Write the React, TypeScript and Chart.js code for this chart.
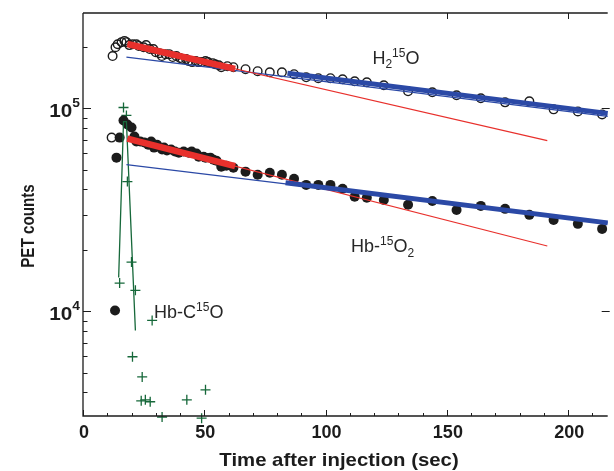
import { useEffect, useRef } from 'react';
import { Chart, registerables } from 'chart.js';

Chart.register(...registerables);

// ---------------- data ----------------
const h2oTime = [11.8, 12.2, 13.4, 14.3, 15.9, 17.1, 17.9, 19.1, 20.5, 22, 23, 25, 26, 27.5, 29, 30, 31.5, 32.5, 34, 35.5, 37, 38.5, 40, 41, 42.5, 43.5, 45, 46.5, 47.5, 49, 50.5, 51.5, 53.5, 54.5, 56, 57, 59.5, 62, 67, 72, 77, 82, 87, 92, 97, 102, 107, 112, 117, 124, 134, 144, 154, 164, 174, 184, 194, 204, 214];
const h2oCounts = [71800, 181000, 200000, 207000, 212000, 215000, 212000, 205000, 207000, 207000, 203000, 200000, 205000, 196000, 196000, 189000, 187000, 181000, 185000, 185000, 179000, 181000, 177000, 175000, 175000, 171000, 169000, 171000, 169000, 169000, 171000, 169000, 167000, 165000, 163000, 159600, 161400, 159600, 156000, 152500, 150700, 150700, 147400, 142300, 140800, 140800, 139200, 136000, 134500, 130000, 121400, 120000, 116000, 112100, 107100, 108300, 98900, 96600, 93400];

const hbO2Time = [13.2, 13.8, 15.1, 16.7, 18.3, 20, 21.2, 22, 23.6, 25.3, 26.9, 28.1, 29.3, 30.5, 32.6, 33.4, 34.6, 36.3, 37.9, 39.5, 41.5, 43.6, 44.8, 46.8, 47.7, 49.7, 50.5, 52.5, 53.8, 55, 57, 59.1, 62, 67, 72, 77, 82, 87, 92, 97, 102, 107, 112, 117, 124, 134, 144, 154, 164, 174, 184, 194, 204, 214];
const hbO2Counts = [10100, 57200, 71800, 87200, 83300, 80500, 72700, 68700, 68700, 67900, 66300, 68700, 64100, 66300, 62700, 64100, 62000, 62700, 61300, 60500, 61300, 60500, 61300, 59900, 57800, 57800, 57200, 57200, 55900, 55300, 51600, 52200, 51050, 48800, 47100, 48200, 47100, 45000, 42000, 42000, 42000, 40200, 36700, 36300, 35400, 33500, 35000, 31600, 33100, 32000, 29900, 28200, 27000, 25500];

const hbCOTime = [15.1, 16.7, 17.9, 18.3, 20.0, 20.4, 21.6, 24.0, 24.4, 25.7, 27.7, 28.5, 32.6, 42.8, 48.9, 50.5];
const hbCOCounts = [13800, 101000, 92300, 43600, 17500, 5980, 12700, 3630, 4760, 3670, 3590, 9030, 3020, 3670, 2980, 4110];
const hbCOCurveTime = [14.7, 16.7, 17.9, 21.6];
const hbCOCurveCounts = [14700, 86000, 86000, 8050];

const h2oEarlyFitTime = [18.3, 191.4];
const h2oEarlyFitCounts = [207600, 69400];
const h2oEarlyFitBoldTime = [18.3, 62.7];
const h2oEarlyFitBoldCounts = [207600, 156600];
const hbO2EarlyFitTime = [18.3, 191.4];
const hbO2EarlyFitCounts = [71000, 21000];
const hbO2EarlyFitBoldTime = [18.3, 62.7];
const hbO2EarlyFitBoldCounts = [71000, 51900];

const h2oLateFitTime = [17.9, 216.3];
const h2oLateFitCounts = [178800, 91300];
const h2oLateFitBoldTime = [84.3, 216.3];
const h2oLateFitBoldCounts = [149000, 94500];
const hbO2LateFitTime = [17.9, 216.3];
const hbO2LateFitCounts = [52800, 27300];
const hbO2LateFitBoldTime = [83.5, 216.3];
const hbO2LateFitBoldCounts = [43000, 27300];

const xTickValues = [0, 10, 20, 30, 40, 50, 60, 70, 80, 90, 100, 110, 120, 130, 140, 150, 160, 170, 180, 190, 200, 210];
const xTickLabels = ['0', '50', '100', '150', '200'];
const yTickValues = [4000, 5000, 6000, 7000, 8000, 9000, 10000, 20000, 30000, 40000, 50000, 60000, 70000, 80000, 90000, 100000, 200000];
const yTickExponents = ['4', '5'];

const xTitle = 'Time after injection (sec)';
const yTitle = 'PET counts';

// labels anchored in data coordinates (time, counts)
const labelH2O = { t: 119.3, v: 165000 };
const labelHbO2 = { t: 110.5, v: 19600 };
const labelHbCO = { t: 29.3, v: 9330 };

// ---------------- styling ----------------
const RED = '#e8302c';
const BLUE = '#2b49a6';
const GREEN = '#16683a';
const INK = '#1c1c1c';
const FONT = '"Liberation Sans", Arial, Helvetica, sans-serif';

const pts = (xs: number[], ys: number[]) => xs.map((x, i) => ({ x, y: ys[i] }));

type Part = { text: string; size: number; dy: number; bold?: boolean };

function measureParts(ctx: CanvasRenderingContext2D, parts: Part[]) {
  let w = 0;
  for (const p of parts) {
    ctx.font = `${p.bold ? 'bold ' : ''}${p.size}px ${FONT}`;
    w += ctx.measureText(p.text).width;
  }
  return w;
}

function drawParts(ctx: CanvasRenderingContext2D, parts: Part[], x: number, y: number) {
  let cx = x;
  for (const p of parts) {
    ctx.font = `${p.bold ? 'bold ' : ''}${p.size}px ${FONT}`;
    ctx.fillText(p.text, cx, y + p.dy);
    cx += ctx.measureText(p.text).width;
  }
}

const framePlugin = {
  id: 'framePlugin',
  afterDatasetsDraw(chart: any) {
    const { ctx, chartArea: a, scales } = chart;
    const x = scales.x;
    const y = scales.y;
    ctx.save();
    ctx.strokeStyle = INK;
    ctx.fillStyle = INK;
    ctx.lineWidth = 1.3;
    ctx.beginPath();
    ctx.moveTo(a.left, a.top);
    ctx.lineTo(a.right, a.top);
    ctx.moveTo(a.left, a.top);
    ctx.lineTo(a.left, a.bottom);
    ctx.lineTo(a.right, a.bottom);
    ctx.stroke();

    // x ticks (inward)
    ctx.lineWidth = 1;
    ctx.beginPath();
    for (const v of xTickValues) {
      const px = Math.round(x.getPixelForValue(v)) + 0.5;
      const major = v % 50 === 0;
      const len = major ? 6 : 3;
      ctx.moveTo(px, a.bottom);
      ctx.lineTo(px, a.bottom - len);
      if (major && v > 0) {
        ctx.moveTo(px, a.top);
        ctx.lineTo(px, a.top + 6);
      }
    }
    // y ticks (inward), left; right axis just beyond the visible edge
    for (const v of yTickValues) {
      const py = Math.round(y.getPixelForValue(v)) + 0.5;
      const major = Math.abs(Math.log10(v) - Math.round(Math.log10(v))) < 1e-9;
      const len = major ? 8 : 4.5;
      ctx.moveTo(a.left, py);
      ctx.lineTo(a.left + len, py);
      if (major) {
        ctx.moveTo(a.right + 2, py);
        ctx.lineTo(a.right + 2 - len, py);
      }
    }
    ctx.stroke();

    // x tick labels
    ctx.textAlign = 'center';
    ctx.textBaseline = 'alphabetic';
    ctx.font = `bold 18px ${FONT}`;
    for (const lab of xTickLabels) {
      const px = x.getPixelForValue(Number(lab));
      ctx.fillText(lab, px + 1, a.bottom + 22);
    }

    // y tick labels (10^n), slightly widened
    ctx.textAlign = 'left';
    const sx = 1.15;
    for (const e of yTickExponents) {
      const py = y.getPixelForValue(Math.pow(10, Number(e)));
      const parts: Part[] = [
        { text: '10', size: 18, dy: 0, bold: true },
        { text: e, size: 12, dy: -10, bold: true },
      ];
      const w = measureParts(ctx, parts) * sx;
      ctx.save();
      ctx.translate(a.left - 3 - w, py + 8.5);
      ctx.scale(sx, 1);
      drawParts(ctx, parts, 0, 0);
      ctx.restore();
    }

    // axis titles
    ctx.save();
    ctx.font = `bold 18.5px ${FONT}`;
    ctx.textAlign = 'center';
    ctx.textBaseline = 'middle';
    ctx.translate(339, 461);
    ctx.scale(1.1, 1);
    ctx.fillText(xTitle, 0, 0);
    ctx.restore();

    ctx.save();
    ctx.font = `bold 16px ${FONT}`;
    ctx.textAlign = 'center';
    ctx.textBaseline = 'middle';
    ctx.translate(29, 226);
    ctx.rotate(-Math.PI / 2);
    ctx.scale(0.95, 1.2);
    ctx.fillText(yTitle, 0, 0);
    ctx.restore();

    // series annotations
    ctx.textAlign = 'left';
    ctx.textBaseline = 'alphabetic';
    ctx.fillStyle = '#262626';
    drawParts(ctx, [
      { text: 'H', size: 18, dy: 0 },
      { text: '2', size: 12, dy: 4 },
      { text: '15', size: 12, dy: -7 },
      { text: 'O', size: 18, dy: 0 },
    ], x.getPixelForValue(labelH2O.t), y.getPixelForValue(labelH2O.v));
    drawParts(ctx, [
      { text: 'Hb-', size: 18, dy: 0 },
      { text: '15', size: 12, dy: -7 },
      { text: 'O', size: 18, dy: 0 },
      { text: '2', size: 12, dy: 5 },
    ], x.getPixelForValue(labelHbO2.t), y.getPixelForValue(labelHbO2.v));
    drawParts(ctx, [
      { text: 'Hb-C', size: 18, dy: 0 },
      { text: '15', size: 12, dy: -7 },
      { text: 'O', size: 18, dy: 0 },
    ], x.getPixelForValue(labelHbCO.t), y.getPixelForValue(labelHbCO.v));
    ctx.restore();
  },
};

function lineSet(xs: number[], ys: number[], color: string, width: number, order: number) {
  return {
    data: pts(xs, ys),
    showLine: true,
    borderColor: color,
    backgroundColor: color,
    borderWidth: width,
    pointRadius: 0,
    borderCapStyle: 'butt' as const,
    order,
    clip: false as const,
  };
}

export default function App() {
  const ref = useRef<HTMLCanvasElement | null>(null);

  useEffect(() => {
    if (!ref.current) return;
    document.body.style.overflow = 'hidden';
    const chart = new Chart(ref.current, {
      type: 'scatter',
      data: {
        datasets: [
          lineSet(h2oEarlyFitBoldTime, h2oEarlyFitBoldCounts, RED, 6.5, 0),
          lineSet(hbO2EarlyFitBoldTime, hbO2EarlyFitBoldCounts, RED, 6.5, 0),
          lineSet(h2oLateFitBoldTime, h2oLateFitBoldCounts, BLUE, 5, 0),
          lineSet(hbO2LateFitBoldTime, hbO2LateFitBoldCounts, BLUE, 5, 0),
          lineSet(h2oEarlyFitTime, h2oEarlyFitCounts, RED, 1.2, 1),
          lineSet(hbO2EarlyFitTime, hbO2EarlyFitCounts, RED, 1.2, 1),
          lineSet(h2oLateFitTime, h2oLateFitCounts, BLUE, 1.2, 1),
          lineSet(hbO2LateFitTime, hbO2LateFitCounts, BLUE, 1.2, 1),
          lineSet(hbCOCurveTime, hbCOCurveCounts, GREEN, 1.3, 1),
          {
            data: pts(h2oTime, h2oCounts),
            pointStyle: 'circle',
            pointRadius: 4.3,
            pointBorderWidth: 1.4,
            pointBorderColor: INK,
            pointBackgroundColor: 'rgba(255,255,255,0)',
            showLine: false,
            order: 5,
            clip: false as const,
          },
          {
            data: pts(hbO2Time, hbO2Counts),
            pointStyle: 'circle',
            pointRadius: 5,
            pointBorderWidth: 0,
            pointBorderColor: INK,
            pointBackgroundColor: INK,
            showLine: false,
            order: 5,
            clip: false as const,
          },
          {
            data: pts(hbCOTime, hbCOCounts),
            pointStyle: 'cross',
            pointRadius: 5,
            pointBorderWidth: 1.3,
            pointBorderColor: GREEN,
            pointBackgroundColor: GREEN,
            showLine: false,
            order: 5,
            clip: false as const,
          },
        ] as any,
      },
      options: {
        animation: false,
        responsive: false,
        layout: { padding: { left: 83, top: 13, right: 0, bottom: 55 } },
        plugins: { legend: { display: false }, tooltip: { enabled: false } },
        scales: {
          x: {
            type: 'linear',
            display: false,
            min: 0,
            max: 216.3,
          },
          y: {
            type: 'logarithmic',
            display: false,
            min: 3055,
            max: 295000,
          },
        },
      },
      plugins: [framePlugin],
    });
    return () => chart.destroy();
  }, []);

  return (
    <div style={{ position: 'absolute', left: 0, top: 0, width: 614, height: 471, background: '#fff' }}>
      <canvas ref={ref} width={614} height={471} style={{ display: 'block' }} />
    </div>
  );
}
